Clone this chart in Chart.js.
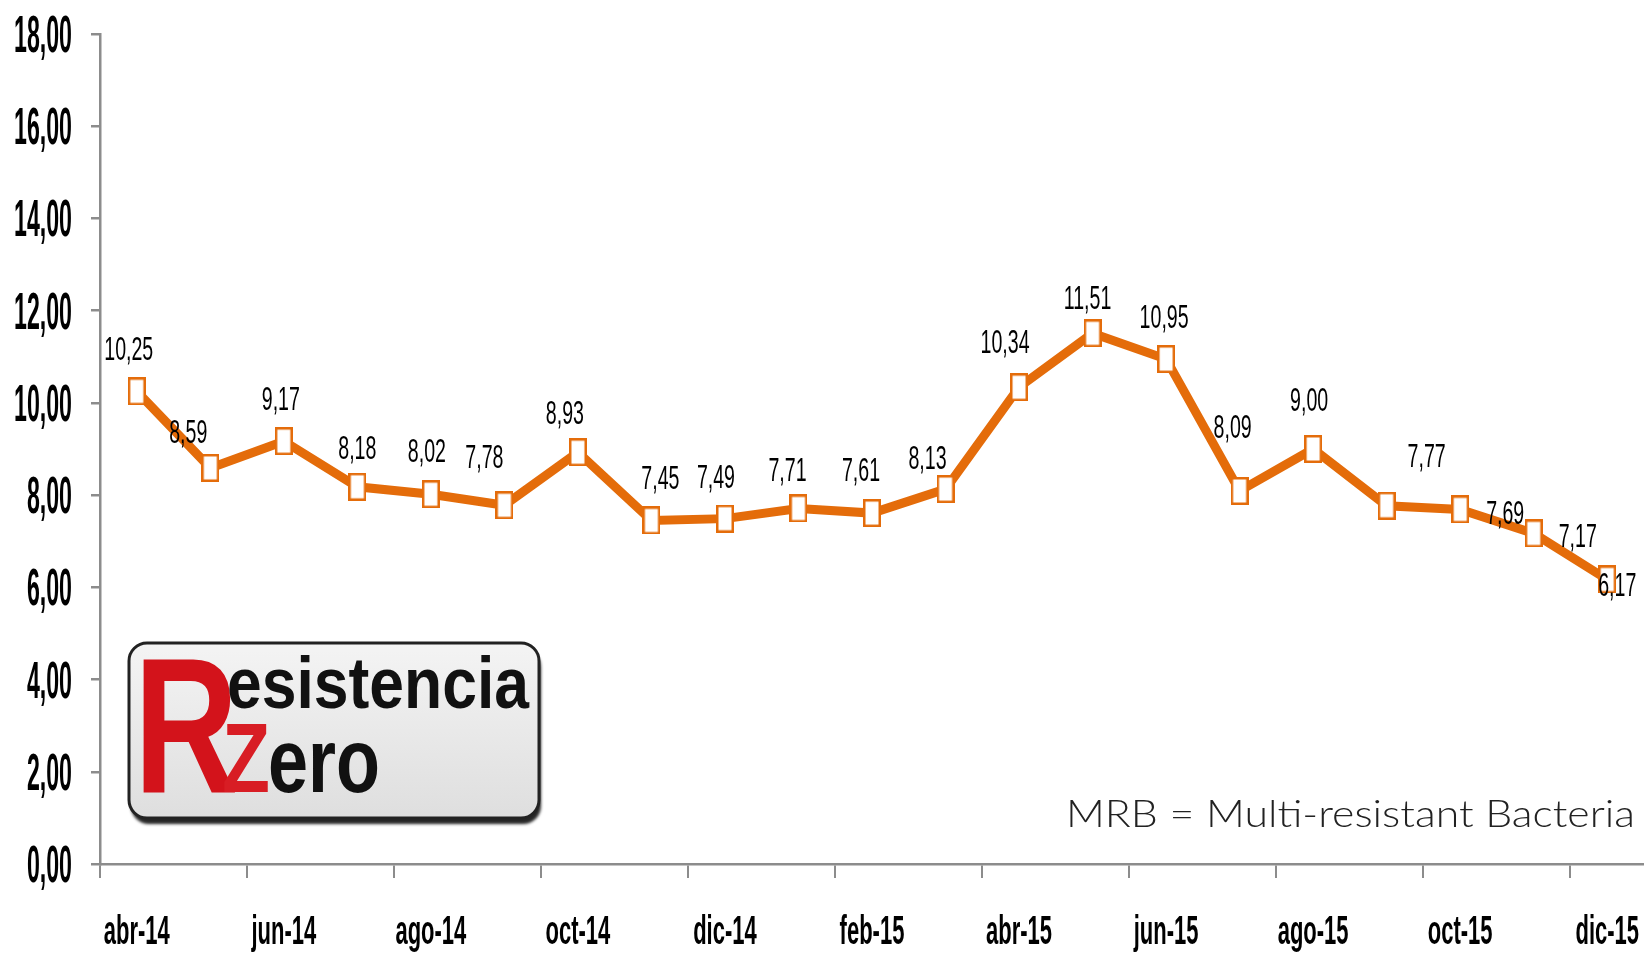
<!DOCTYPE html>
<html>
<head>
<meta charset="utf-8">
<title>MRB</title>
<script src="https://cdn.jsdelivr.net/npm/chart.js@4.4.1/dist/chart.umd.min.js"></script>
<style>
  html, body { margin: 0; padding: 0; background: #fff; }
  canvas { display: block; }
</style>
</head>
<body>
<canvas id="mrbLineChart" width="1644" height="957"></canvas>
<script>
// Data block
const months = ['abr-14', 'may-14', 'jun-14', 'jul-14', 'ago-14', 'sep-14', 'oct-14', 'nov-14', 'dic-14',
    'ene-15', 'feb-15', 'mar-15', 'abr-15', 'may-15', 'jun-15', 'jul-15', 'ago-15', 'sep-15', 'oct-15',
    'nov-15', 'dic-15'];
const mrbValues = [10.25, 8.59, 9.17, 8.18, 8.02, 7.78, 8.93, 7.45, 7.49, 7.71, 7.61, 8.13, 10.34, 11.51,
    10.95, 8.09, 9.00, 7.77, 7.69, 7.17, 6.17];
const yMin = 0;
const yMax = 18;
const yStep = 2;
const footNote = 'MRB = Multi-resistant Bacteria';

// Where each value label sits relative to its marker (px), as placed by hand in the original
const labelShift = [[-8, -43], [-22, -37], [-3, -43], [0, -40], [-4, -44], [-20, -49], [-13, -40],
    [9, -43], [-9, -43], [-11, -39], [-11, -44], [-18, -32], [-14, -46], [-5, -36], [-2, -43],
    [-7, -65], [-4, -50], [40, -51], [45, 3], [44, 2], [10, 5]];

const ORANGE = '#E46C0A';
const AXIS_GREY = '#8c8c8c';
const SANS = '"Liberation Sans", Arial, sans-serif';

const fmt = v => v.toFixed(2).replace('.', ',');

// Tall narrow marker, like the squashed squares of the original
const marker = document.createElement('canvas');
marker.width = 18;
marker.height = 28;
(function () {
    const m = marker.getContext('2d');
    m.fillStyle = '#fff';
    m.strokeStyle = ORANGE;
    m.lineWidth = 2.5;
    m.fillRect(1.25, 1.25, 15.5, 25.5);
    m.strokeRect(1.25, 1.25, 15.5, 25.5);
})();

// draw text squeezed horizontally by sx
function squashText(ctx, text, x, y, sx, align) {
    const w = ctx.measureText(text).width * sx;
    let left = x;
    if (align === 'center') left = x - w / 2;
    else if (align === 'right') left = x - w;
    ctx.save();
    ctx.translate(left, y);
    ctx.scale(sx, 1);
    ctx.textAlign = 'left';
    ctx.fillText(text, 0, 0);
    ctx.restore();
}

// Labels plugin block: axis labels, value labels, note and logo
const mrbLabels = {
    id: 'mrbLabels',
    afterDraw(chart) {
        const ctx = chart.ctx;
        const xScale = chart.scales.x;
        const yScale = chart.scales.y;
        ctx.save();
        ctx.textBaseline = 'alphabetic';
        ctx.fillStyle = '#000';

        // y axis labels
        ctx.font = 'bold 52px ' + SANS;
        let sx = 58 / ctx.measureText('18,00').width;
        yScale.ticks.forEach(t => {
            squashText(ctx, fmt(t.value), 72, yScale.getPixelForValue(t.value) + 18, sx, 'right');
        });

        // x axis labels, every second month
        ctx.font = 'bold 40px ' + SANS;
        sx = 66 / ctx.measureText('abr-14').width;
        xScale.ticks.forEach((t, i) => {
            if (i % 2) return;
            squashText(ctx, xScale.getLabelForValue(t.value), xScale.getPixelForTick(i), 944, sx, 'center');
        });

        // value labels
        ctx.font = '34px ' + SANS;
        sx = 49 / ctx.measureText('10,25').width;
        chart.getDatasetMeta(0).data.forEach((pt, i) => {
            const s = labelShift[i];
            squashText(ctx, fmt(mrbValues[i]), pt.x + s[0], pt.y + s[1] + 12, sx, 'center');
        });

        // note
        ctx.font = '300 37px Lato, "DejaVu Sans", sans-serif';
        ctx.fillStyle = '#222';
        sx = 569 / ctx.measureText(footNote).width;
        squashText(ctx, footNote, 1066, 827, sx, 'left');

        // logo box
        ctx.save();
        ctx.shadowColor = 'rgba(0,0,0,0.85)';
        ctx.shadowOffsetY = 6;
        ctx.shadowOffsetX = 2;
        ctx.shadowBlur = 3;
        const g = ctx.createLinearGradient(0, 642, 0, 820);
        g.addColorStop(0, '#f4f4f4');
        g.addColorStop(1, '#dedede');
        ctx.fillStyle = g;
        ctx.beginPath();
        ctx.roundRect(129, 643, 410, 175, 18);
        ctx.fill();
        ctx.restore();
        ctx.strokeStyle = '#222';
        ctx.lineWidth = 3;
        ctx.beginPath();
        ctx.roundRect(129, 643, 410, 175, 18);
        ctx.stroke();

        ctx.fillStyle = '#d3131b';
        ctx.font = 'bold 193px ' + SANS;
        squashText(ctx, 'R', 134, 793, 104 / ctx.measureText('R').width, 'left');
        ctx.fillStyle = '#111';
        ctx.font = 'bold 73px ' + SANS;
        squashText(ctx, 'esistencia', 227, 708, 302 / ctx.measureText('esistencia').width, 'left');
        ctx.fillStyle = '#d81d24';
        ctx.font = 'bold 98px ' + SANS;
        squashText(ctx, 'Z', 222, 792, 48 / ctx.measureText('Z').width, 'left');
        ctx.fillStyle = '#111';
        ctx.font = 'bold 90px ' + SANS;
        squashText(ctx, 'ero', 268, 792, 112 / ctx.measureText('ero').width, 'left');

        ctx.restore();
    }
};

// Setup block
const mrbData = {
    labels: months,
    datasets: [{
        label: 'MRB',
        data: mrbValues,
        borderColor: ORANGE,
        backgroundColor: ORANGE,
        borderWidth: 9,
        lineTension: 0,
        pointStyle: marker,
        pointRadius: 10,
        pointHoverRadius: 10,
    }]
};

// Config block
const mrbConfig = {
    type: 'line',
    data: mrbData,
    options: {
        responsive: false,
        animation: false,
        devicePixelRatio: 1,
        events: [],
        layout: {
            autoPadding: false,
            padding: {top: 34, right: 0, bottom: 0, left: 0}
        },
        plugins: {
            legend: {display: false},
            tooltip: {enabled: false}
        },
        scales: {
            x: {
                offset: true,
                ticks: {display: false, autoSkip: false},
                grid: {
                    offset: true,
                    drawOnChartArea: false,
                    drawTicks: true,
                    tickLength: 14,
                    lineWidth: 2,
                    tickColor: c => (c.index % 2 === 0 ? AXIS_GREY : 'rgba(0,0,0,0)')
                },
                border: {display: true, color: AXIS_GREY, width: 2.5},
                afterFit: scale => { scale.height = 93; }
            },
            y: {
                min: yMin,
                max: yMax,
                ticks: {display: false, stepSize: yStep},
                grid: {
                    drawOnChartArea: false,
                    drawTicks: true,
                    tickLength: 9,
                    lineWidth: 2.5,
                    tickColor: AXIS_GREY
                },
                border: {display: true, color: AXIS_GREY, width: 2.5},
                afterFit: scale => { scale.width = 100; }
            }
        }
    },
    plugins: [mrbLabels]
};

// render / init block
const mrbChart = new Chart(document.getElementById('mrbLineChart'), mrbConfig);
</script>
</body>
</html>
